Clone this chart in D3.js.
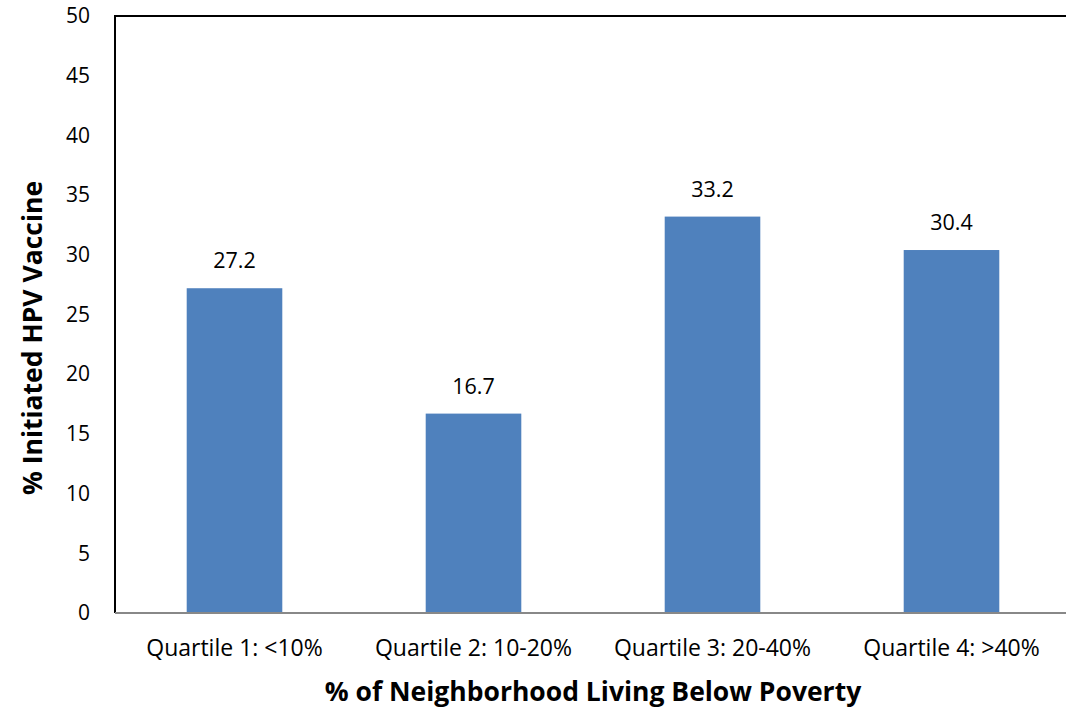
<!DOCTYPE html>
<html>
<head>
<meta charset="utf-8">
<script src="https://cdn.jsdelivr.net/npm/d3@7"></script>
<style>
  html, body { margin: 0; padding: 0; background: #fff; }
  svg { display: block; font-family: "Open Sans", "Liberation Sans", sans-serif; }
</style>
</head>
<body>
<svg id="chart" width="1066" height="713"></svg>
<script>
// Share of youth who initiated the HPV vaccine, by neighborhood poverty quartile
const categories = ["Quartile 1: <10%", "Quartile 2: 10-20%", "Quartile 3: 20-40%", "Quartile 4: >40%"];
const values = [27.2, 16.7, 33.2, 30.4];
const yTicks = [0, 5, 10, 15, 20, 25, 30, 35, 40, 45, 50];

const svg = d3.select("#chart");
const plotLeft = 115, plotRight = 1071, plotTop = 16, plotBottom = 613;

const x = d3.scaleBand().domain(categories).range([plotLeft, plotRight])
  .paddingInner(0.6).paddingOuter(0.3);
const y = d3.scaleLinear().domain([0, 50]).range([plotBottom, plotTop]);

// bars
svg.append("g").selectAll("rect").data(values).join("rect")
  .attr("x", (d, i) => x(categories[i]))
  .attr("y", d => y(d))
  .attr("width", x.bandwidth())
  .attr("height", d => y(0) - y(d))
  .attr("fill", "#4F81BD");

// value labels
svg.append("g").selectAll("text").data(values).join("text")
  .attr("x", (d, i) => x(categories[i]) + x.bandwidth() / 2)
  .attr("y", d => y(d) - 20)
  .attr("text-anchor", "middle")
  .attr("font-size", 21.5)
  .attr("fill", "#000")
  .text(d => d.toFixed(1));

// frame: top and left in black, baseline in grey
svg.append("line").attr("x1", plotLeft).attr("x2", 1066).attr("y1", plotTop).attr("y2", plotTop)
  .attr("stroke", "#000").attr("stroke-width", 2);
svg.append("line").attr("x1", plotLeft).attr("x2", plotLeft).attr("y1", plotTop - 1).attr("y2", plotBottom)
  .attr("stroke", "#000").attr("stroke-width", 2);

// y axis labels
const yAxis = d3.axisLeft(y).tickValues(yTicks).tickSize(0).tickPadding(25);
const gy = svg.append("g").attr("transform", `translate(${plotLeft},0)`).call(yAxis);
gy.select(".domain").remove();
gy.selectAll("text").attr("font-size", 21).attr("fill", "#000")
  .attr("font-family", "'Open Sans', sans-serif");

// x axis
const xAxis = d3.axisBottom(x).tickSize(0).tickPadding(0);
const gx = svg.append("g").attr("transform", `translate(0,${plotBottom})`).call(xAxis);
gx.select(".domain").attr("stroke", "#888").attr("stroke-width", 2)
  .attr("d", `M${plotLeft},0H1066`);
gx.selectAll("text").attr("font-size", 23).attr("fill", "#000")
  .attr("font-family", "'Open Sans', sans-serif")
  .attr("dy", null).attr("y", 43);

// axis titles
svg.append("text")
  .attr("x", 593).attr("y", 701)
  .attr("text-anchor", "middle")
  .attr("font-size", 26.5).attr("font-weight", "bold")
  .text("% of Neighborhood Living Below Poverty");

svg.append("text")
  .attr("transform", "translate(42,338) rotate(-90)")
  .attr("text-anchor", "middle")
  .attr("font-size", 26.5).attr("font-weight", "bold")
  .text("% Initiated HPV Vaccine");
</script>
</body>
</html>
